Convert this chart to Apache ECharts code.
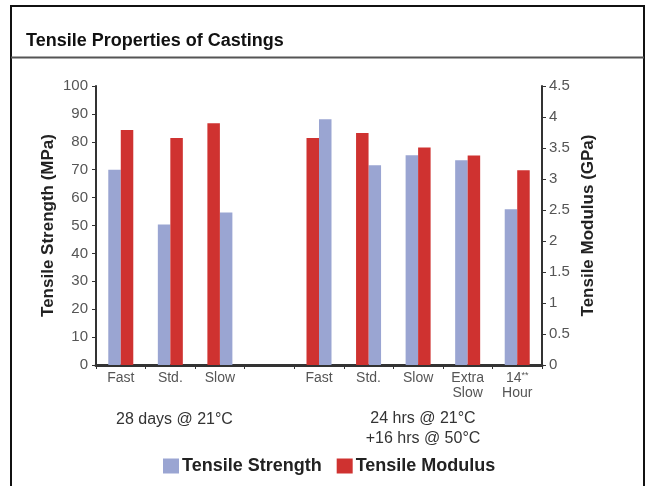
<!DOCTYPE html>
<html>
<head>
<meta charset="utf-8">
<script src="https://cdn.jsdelivr.net/npm/echarts@6/dist/echarts.min.js"></script>
<style>
html,body{margin:0;padding:0;background:#fff;}
#chart{width:651px;height:486px;}
</style>
</head>
<body>
<div id="chart"></div>
<script>
// ---- data ----
const categories = ['Fast', 'Std.', 'Slow', '', 'Fast', 'Std.', 'Slow', 'Extra\nSlow', '14**\nHour'];
const tensileStrength = [70, 50.4, 54.7, null, 88.1, 71.6, 75.2, 73.4, 55.8];      // MPa
const tensileModulus  = [3.79, 3.66, 3.90, null, 3.66, 3.74, 3.51, 3.38, 3.14];     // GPa
// which bar comes first in each category: 'S' = strength left, 'M' = modulus left
const barOrder = ['S', 'S', 'M', '', 'M', 'M', 'S', 'S', 'S'];
const strengthTicks = {min: 0, max: 100, interval: 10};
const modulusTicks = {min: 0, max: 4.5, interval: 0.5};
const groupLabels = ['28 days @ 21°C', '24 hrs @ 21°C\n+16 hrs @ 50°C'];
const seriesNames = ['Tensile Strength', 'Tensile Modulus'];

const BLUE = '#9aa5d2', RED = '#cf3230';

const strengthLeft = tensileStrength.map((v, i) => (v != null && barOrder[i] === 'S') ? v : '-');
const strengthRight = tensileStrength.map((v, i) => (v != null && barOrder[i] === 'M') ? v : '-');
const modulusLeft = tensileModulus.map((v, i) => (v != null && barOrder[i] === 'M') ? v : '-');
const modulusRight = tensileModulus.map((v, i) => (v != null && barOrder[i] === 'S') ? v : '-');

const chart = echarts.init(document.getElementById('chart'), null, {renderer: 'canvas'});
const FONT = '"Liberation Sans", Arial, Helvetica, sans-serif';

const barCommon = {barWidth: 12.5, barGap: '0%', barCategoryGap: '0%', silent: true};

chart.setOption({
  animation: false,
  textStyle: {fontFamily: FONT},
  title: {
    text: 'Tensile Properties of Castings',
    left: 21, top: 27,
    textStyle: {fontFamily: FONT, fontSize: 18, fontWeight: 'bold', color: '#111'}
  },
  legend: {
    data: seriesNames,
    left: 158, top: 452,
    icon: 'rect', itemWidth: 16, itemHeight: 15, itemGap: 15,
    textStyle: {fontFamily: FONT, fontSize: 18, fontWeight: 'bold', color: '#222', padding: [0, 0, 0, -2]},
    selectedMode: false
  },
  grid: {left: 96, right: 109, top: 86, bottom: 121, containLabel: false},
  xAxis: [{
    type: 'category', data: categories, position: 'bottom',
    axisLine: {show: true, lineStyle: {color: '#333', width: 3}},
    axisTick: {show: true, alignWithLabel: false, interval: 0, length: 4, lineStyle: {color: '#333', width: 1}},
    axisLabel: {
      interval: 0, margin: 6, color: '#555', fontSize: 14, lineHeight: 15, fontFamily: FONT,
      formatter: function (v) {
        if (v.indexOf('**') >= 0) {
          const parts = v.split('\n');
          return parts[0].replace('**', '') + '{sup|**}\n' + parts[1];
        }
        return v;
      },
      rich: {sup: {fontSize: 9, color: '#555', verticalAlign: 'top', lineHeight: 15, fontFamily: FONT}}
    },
    splitLine: {show: false}
  }, {
    type: 'category', data: categories, show: false, position: 'bottom'
  }],
  yAxis: [{
    type: 'value', position: 'left',
    min: strengthTicks.min, max: strengthTicks.max, interval: strengthTicks.interval,
    name: 'Tensile Strength (MPa)', nameLocation: 'middle', nameRotate: 90, nameGap: 39,
    nameMoveOverlap: false,
    nameTextStyle: {fontFamily: FONT, fontSize: 17, fontWeight: 'bold', color: '#222'},
    axisLine: {show: true, lineStyle: {color: '#333', width: 2}},
    axisTick: {show: true, length: 4, lineStyle: {color: '#333', width: 1}},
    axisLabel: {color: '#555', fontSize: 15, margin: 8, fontFamily: FONT},
    splitLine: {show: false}
  }, {
    type: 'value', position: 'right',
    min: modulusTicks.min, max: modulusTicks.max, interval: modulusTicks.interval,
    name: 'Tensile Modulus (GPa)', nameLocation: 'middle', nameRotate: 90, nameGap: 38,
    nameMoveOverlap: false,
    nameTextStyle: {fontFamily: FONT, fontSize: 17, fontWeight: 'bold', color: '#222'},
    axisLine: {show: true, lineStyle: {color: '#333', width: 2}},
    axisTick: {show: true, length: 4, lineStyle: {color: '#333', width: 1}},
    axisLabel: {color: '#555', fontSize: 15, margin: 7, fontFamily: FONT},
    splitLine: {show: false}
  }],
  series: [
    Object.assign({type: 'bar', name: seriesNames[0], xAxisIndex: 0, yAxisIndex: 0, data: strengthLeft, itemStyle: {color: BLUE}}, barCommon),
    Object.assign({type: 'bar', name: seriesNames[0], xAxisIndex: 0, yAxisIndex: 0, data: strengthRight, itemStyle: {color: BLUE}}, barCommon),
    Object.assign({type: 'bar', name: seriesNames[1], xAxisIndex: 1, yAxisIndex: 1, data: modulusLeft, itemStyle: {color: RED}}, barCommon),
    Object.assign({type: 'bar', name: seriesNames[1], xAxisIndex: 1, yAxisIndex: 1, data: modulusRight, itemStyle: {color: RED}}, barCommon)
  ],
  graphic: [
    {type: 'polyline', shape: {points: [[11, 490], [11, 6], [644, 6], [644, 490]]}, style: {stroke: '#111', lineWidth: 2, fill: null}, silent: true},
    {type: 'line', shape: {x1: 11, y1: 57.5, x2: 644, y2: 57.5}, style: {stroke: '#555', lineWidth: 2}, silent: true},
    {type: 'text', left: 116, top: 412, style: {text: groupLabels[0], fontFamily: FONT, fontSize: 16, fill: '#333'}, silent: true},
    {type: 'text', x: 423, y: 409, style: {text: groupLabels[1], fontFamily: FONT, fontSize: 16, lineHeight: 20, fill: '#333', align: 'center', verticalAlign: 'top'}, silent: true}
  ]
});
</script>
</body>
</html>
